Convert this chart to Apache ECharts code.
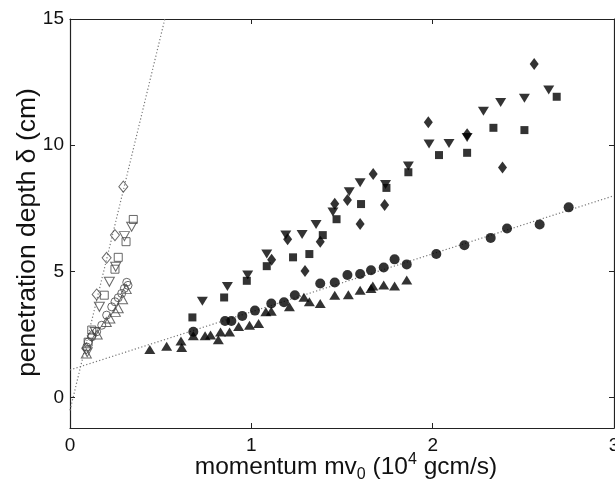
<!DOCTYPE html>
<html>
<head>
<meta charset="utf-8">
<script src="https://cdn.jsdelivr.net/npm/echarts@6/dist/echarts.min.js"></script>
<style>
  html, body { margin: 0; padding: 0; background: #fff; }
  #chart { width: 615px; height: 486px; }
</style>
</head>
<body>
<div id="chart"></div>
<script>
// Axis ticks
const xTicks = [0, 1, 2, 3];
const yTicks = [0, 5, 10, 15];

// Fitted trend lines: [momentum, depth] endpoints
const steepLine = [[0, -0.5], [0.55, 15.8]];
const shallowLine = [[0, 1.1], [3, 8.0]];

// Open markers (small momentum group)
const openDiamond = [[0.09, 1.95], [0.12, 2.45], [0.147, 4.09], [0.202, 5.54], [0.248, 6.44], [0.294, 8.36]];
const openSquare = [[0.1, 2.2], [0.12, 2.68], [0.189, 4.06], [0.248, 5.09], [0.266, 5.56], [0.309, 6.18], [0.349, 7.06]];
const openDown = [[0.095, 1.8], [0.14, 2.6], [0.162, 3.6], [0.217, 4.59], [0.252, 5.19], [0.3, 6.4], [0.34, 6.77]];
const openUp = [[0.09, 1.75], [0.15, 2.5], [0.2, 3.0], [0.22, 3.14], [0.25, 3.4], [0.266, 3.54], [0.29, 3.9], [0.31, 4.3]];
const openCircle = [[0.092, 2.01], [0.101, 2.21], [0.12, 2.41], [0.147, 2.61], [0.175, 2.87], [0.202, 3.27], [0.23, 3.6],
  [0.248, 3.8], [0.266, 3.96], [0.285, 4.13], [0.3, 4.33], [0.313, 4.57], [0.32, 4.45]];

// Filled markers (large momentum group)
const filledDown = [[0.73, 3.82], [0.868, 4.4], [0.98, 4.86], [1.085, 5.69], [1.19, 6.44], [1.28, 6.46], [1.357, 6.86],
  [1.45, 7.36], [1.54, 8.16], [1.6, 8.51], [1.74, 8.44], [1.866, 9.18], [1.98, 10.05], [2.09, 10.07], [2.19, 10.31],
  [2.28, 11.35], [2.375, 11.69], [2.506, 11.86], [2.64, 12.19]];
const filledSquare = [[0.675, 3.18], [0.85, 3.97], [0.975, 4.63], [1.085, 5.21], [1.23, 5.56], [1.32, 5.69], [1.394, 6.44],
  [1.47, 7.07], [1.605, 7.67], [1.745, 8.31], [1.866, 8.93], [2.035, 9.61], [2.19, 9.7], [2.335, 10.69], [2.506, 10.6],
  [2.684, 11.92]];
const filledDiamond = [[1.112, 5.46], [1.2, 6.28], [1.296, 5.02], [1.38, 6.18], [1.46, 7.68], [1.53, 7.83], [1.6, 6.88],
  [1.672, 8.86], [1.735, 7.63], [1.976, 10.91], [2.19, 10.44], [2.385, 9.12], [2.56, 13.22]];
const filledCircle = [[0.68, 2.61], [0.855, 3.04], [0.89, 3.04], [0.95, 3.24], [1.02, 3.45], [1.11, 3.73], [1.18, 3.78],
  [1.24, 4.06], [1.38, 4.52], [1.46, 4.56], [1.53, 4.86], [1.6, 4.9], [1.66, 5.05], [1.73, 5.16], [1.79, 5.48],
  [1.857, 5.28], [2.02, 5.69], [2.175, 6.04], [2.32, 6.33], [2.41, 6.7], [2.59, 6.86], [2.75, 7.54]];
const filledUp = [[0.44, 1.91], [0.533, 2.04], [0.612, 2.25], [0.616, 1.99], [0.68, 2.45], [0.745, 2.45], [0.775, 2.48],
  [0.818, 2.3], [0.83, 2.6], [0.88, 2.6], [0.93, 2.82], [0.99, 2.87], [1.04, 2.94], [1.08, 3.4], [1.11, 3.42],
  [1.21, 3.6], [1.29, 3.98], [1.32, 3.8], [1.38, 3.73], [1.46, 4.06], [1.535, 4.08], [1.6, 4.26], [1.66, 4.33],
  [1.67, 4.42], [1.73, 4.46], [1.79, 4.42], [1.857, 4.66]];

const FONT = 'Liberation Sans, Arial, Helvetica, sans-serif';
const AXIS_COLOR = '#222';
const OPEN_STYLE = { color: 'rgba(255,255,255,0)', borderColor: '#444', borderWidth: 1 };
const FILLED_STYLE = { color: '#000' };

function scatter(data, symbol, size, style, rotate) {
  return {
    type: 'scatter', data: data, symbol: symbol, symbolSize: size,
    symbolRotate: rotate || 0, itemStyle: style, silent: true, z: 3
  };
}
function trend(data) {
  return {
    type: 'line', data: data, showSymbol: false, silent: true, z: 2, clip: true,
    lineStyle: { color: '#777', width: 1.2, type: [1.2, 2.2] }
  };
}

const tickStyle = { show: true, inside: true, length: 5, lineStyle: { color: AXIS_COLOR, width: 1 } };
const lineStyle = { show: true, onZero: false, lineStyle: { color: AXIS_COLOR, width: 1.2 } };

const chart = echarts.init(document.getElementById('chart'), null, { renderer: 'canvas' });
chart.setOption({
  animation: false,
  backgroundColor: '#fff',
  grid: { left: 70, right: 1, top: 19, bottom: 58, outerBoundsMode: 'none', containLabel: false },
  xAxis: [{
    type: 'value', min: xTicks[0], max: xTicks[xTicks.length - 1], interval: 1,
    axisLine: lineStyle,
    axisTick: tickStyle,
    splitLine: { show: false },
    axisLabel: { color: '#111', fontFamily: FONT, fontSize: 19, margin: 8 },
    name: '{a|momentum mv}{sub|0}{a| (10}{sup|4}{a| gcm/s)}',
    nameLocation: 'middle', nameGap: 23, nameMoveOverlap: false,
    nameTextStyle: {
      fontFamily: FONT, color: '#111', padding: [0, 0, 0, 8],
      rich: {
        a: { fontFamily: FONT, fontSize: 24.5, color: '#111' },
        sub: { fontFamily: FONT, fontSize: 16, color: '#111', padding: [16, 0, 0, 0] },
        sup: { fontFamily: FONT, fontSize: 16, color: '#111', padding: [0, 0, 14, 0] }
      }
    }
  }, {
    type: 'value', position: 'top', min: xTicks[0], max: xTicks[xTicks.length - 1], interval: 1,
    axisLine: lineStyle,
    axisTick: tickStyle, axisLabel: { show: false }, splitLine: { show: false }
  }],
  yAxis: [{
    type: 'value', min: -1.2, max: 15,
    axisLine: lineStyle,
    axisTick: Object.assign({ customValues: yTicks }, tickStyle),
    splitLine: { show: false },
    axisLabel: { customValues: yTicks, color: '#111', fontFamily: FONT, fontSize: 19, margin: 6 },
    name: 'penetration depth δ (cm)',
    nameLocation: 'middle', nameGap: 29, nameRotate: 90, nameMoveOverlap: false,
    nameTextStyle: { fontFamily: FONT, fontSize: 26.5, color: '#111', padding: [0, 18, 0, 0] }
  }, {
    type: 'value', position: 'right', min: -1.2, max: 15,
    axisLine: lineStyle,
    axisTick: Object.assign({ customValues: yTicks }, tickStyle),
    axisLabel: { show: false }, splitLine: { show: false }
  }],
  series: [
    trend(steepLine),
    trend(shallowLine),
    scatter(openDiamond, 'diamond', [9, 11], OPEN_STYLE),
    scatter(openSquare, 'rect', 8, OPEN_STYLE),
    scatter(openDown, 'triangle', [10, 9], OPEN_STYLE, 180),
    scatter(openUp, 'triangle', [10, 9], OPEN_STYLE),
    scatter(openCircle, 'circle', 8, OPEN_STYLE),
    scatter(filledDown, 'triangle', [11, 9], FILLED_STYLE, 180),
    scatter(filledSquare, 'rect', 8, FILLED_STYLE),
    scatter(filledDiamond, 'diamond', [9, 12], FILLED_STYLE),
    scatter(filledCircle, 'circle', 10, FILLED_STYLE),
    scatter(filledUp, 'triangle', [11, 9], FILLED_STYLE)
  ]
});
</script>
</body>
</html>
